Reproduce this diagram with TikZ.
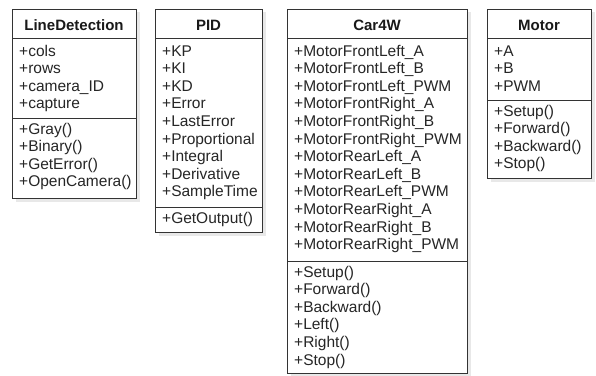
\documentclass[tikz,border=0pt]{standalone}
\usepackage{fontspec}
\setmainfont{Liberation Sans}
\begin{document}
\begin{tikzpicture}[x=1pt,y=-1pt,
  frame/.style={draw=black!80,line width=1pt,fill=white},
  shade/.style={fill=black!9,draw=none},
  member/.style={anchor=base west,inner sep=0pt,font=\fontsize{15.5}{17.6}\selectfont,text=black!85},
  title/.style={anchor=base,inner sep=0pt,font=\fontsize{15}{17.6}\selectfont\bfseries,text=black!90}]
\useasboundingbox (0,0) rectangle (596,375);
\def\pitch{17.6}

% ---- LineDetection ----
\fill[shade] (16,12) rectangle (140,202);
\draw[frame] (12,9) rectangle (136,198);
\draw[frame] (12,38) -- (136,38);
\draw[frame] (12,118) -- (136,118);
\node[title] (ldT) at (74,30) {LineDetection};
\foreach \t [count=\i] in {+cols,+rows,+camera\_ID,+capture}
  \node[member] (ldA\i) at (19,{56+(\i-1)*\pitch}) {\t};
\foreach \t [count=\i] in {+Gray(),+Binary(),+GetError(),+OpenCamera()}
  \node[member] (ldM\i) at (19,{134+(\i-1)*\pitch}) {\t};

% ---- PID ----
\fill[shade] (159,12) rectangle (266,236);
\draw[frame] (155,9) rectangle (262,232);
\draw[frame] (155,38) -- (262,38);
\draw[frame] (155,207) -- (262,207);
\node[title] (pidT) at (208.5,30) {PID};
\foreach \t [count=\i] in {+KP,+KI,+KD,+Error,+LastError,+Proportional,+Integral,+Derivative,+SampleTime}
  \node[member] (pidA\i) at (162,{56+(\i-1)*\pitch}) {\t};
\node[member] (pidM1) at (162,223) {+GetOutput()};

% ---- Car4W ----
\fill[shade] (291,12) rectangle (471,377);
\draw[frame] (287,9) rectangle (467,373);
\draw[frame] (287,38) -- (467,38);
\draw[frame] (287,261) -- (467,261);
\node[title] (carT) at (377,30) {Car4W};
\foreach \t [count=\i] in {+MotorFrontLeft\_A,+MotorFrontLeft\_B,+MotorFrontLeft\_PWM,
    +MotorFrontRight\_A,+MotorFrontRight\_B,+MotorFrontRight\_PWM,
    +MotorRearLeft\_A,+MotorRearLeft\_B,+MotorRearLeft\_PWM,
    +MotorRearRight\_A,+MotorRearRight\_B,+MotorRearRight\_PWM}
  \node[member] (carA\i) at (294,{56+(\i-1)*\pitch}) {\t};
\foreach \t [count=\i] in {+Setup(),+Forward(),+Backward(),+Left(),+Right(),+Stop()}
  \node[member] (carM\i) at (294,{277+(\i-1)*\pitch}) {\t};

% ---- Motor ----
\fill[shade] (491,12) rectangle (595,182);
\draw[frame] (487,9) rectangle (591,178);
\draw[frame] (487,38) -- (591,38);
\draw[frame] (487,100) -- (591,100);
\node[title] (motT) at (539,30) {Motor};
\foreach \t [count=\i] in {+A,+B,+PWM}
  \node[member] (motA\i) at (494,{56+(\i-1)*\pitch}) {\t};
\foreach \t [count=\i] in {+Setup(),+Forward(),+Backward(),+Stop()}
  \node[member] (motM\i) at (494,{116+(\i-1)*\pitch}) {\t};
\end{tikzpicture}
\end{document}
